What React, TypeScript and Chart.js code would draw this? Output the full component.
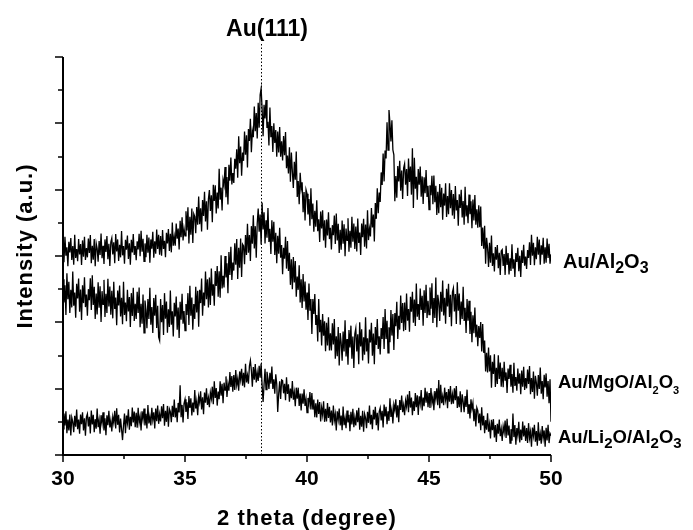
import React, { useEffect, useRef } from "react";
import { Chart, registerables } from "chart.js";

Chart.register(...registerables);

const thetaStart = 30;
const thetaEnd = 50;

const xMajorTicks = [30, 35, 40, 45, 50];
const xMinorTicks = [32.5, 37.5, 42.5, 47.5];
const yTicks = [0, 100, 200, 300, 400, 500, 600, 700, 800, 900, 1000, 1100, 1200];
const peakPosition = 38.1;
const peakLabel = "Au(111)";
const xTitle = "2 theta (degree)";
const yTitle = "Intensity (a.u.)";

// intensities (a.u.), 2-theta from 30 to 50 deg, evenly spaced (0.04 deg)
const auAl2O3 = [
  640, 581, 658, 601, 626, 569, 643, 611, 654, 588, 630, 574, 664, 594, 621, 584, 651, 605, 636, 573, 647, 598, 658, 588, 624,
  596, 653, 609, 663, 578, 631, 589, 651, 569, 638, 622, 583, 645, 603, 668, 593, 631, 576, 650, 612, 660, 590, 637, 570, 642,
  654, 605, 641, 578, 666, 614, 650, 585, 634, 596, 675, 602, 630, 577, 649, 619, 662, 591, 638, 574, 649, 611, 666, 603, 630,
  587, 644, 620, 667, 599, 676, 613, 652, 584, 638, 596, 664, 610, 656, 580, 650, 622, 673, 595, 644, 607, 680, 621, 664, 604,
  660, 601, 678, 621, 646, 596, 670, 638, 681, 615, 667, 611, 701, 631, 658, 631, 698, 652, 683, 620, 706, 657, 717, 647, 683,
  661, 735, 677, 747, 638, 718, 664, 743, 639, 727, 719, 669, 748, 694, 779, 696, 744, 674, 769, 721, 794, 704, 765, 679, 772,
  799, 736, 783, 702, 815, 766, 813, 728, 791, 743, 863, 770, 806, 737, 829, 813, 868, 777, 838, 755, 875, 827, 897, 816, 850,
  820, 893, 863, 922, 836, 961, 880, 930, 842, 912, 887, 975, 905, 964, 867, 983, 947, 1014, 913, 976, 958, 1051, 976, 1031, 954,
  1062, 987, 1086, 1105, 1044, 961, 1056, 1015, 1070, 986, 1005, 933, 1048, 958, 992, 914, 1000, 941, 980, 899, 975, 912, 989, 899, 946,
  888, 962, 904, 974, 865, 903, 849, 928, 824, 912, 855, 805, 884, 830, 915, 778, 826, 756, 851, 803, 822, 732, 793, 707, 800,
  788, 725, 772, 691, 804, 711, 758, 673, 736, 688, 768, 675, 711, 642, 734, 683, 738, 647, 708, 625, 710, 662, 732, 651, 685,
  620, 693, 663, 722, 636, 728, 647, 697, 609, 679, 619, 707, 637, 696, 599, 683, 647, 714, 613, 676, 625, 718, 643, 698, 621,
  689, 614, 713, 639, 671, 603, 698, 657, 712, 628, 695, 623, 738, 648, 682, 659, 745, 686, 725, 644, 760, 712, 804, 729, 791,
  763, 852, 814, 909, 825, 918, 894, 1003, 919, 1040, 1000, 945, 1009, 920, 905, 765, 841, 776, 871, 825, 887, 797, 858, 772, 865,
  878, 815, 862, 781, 894, 823, 870, 785, 925, 745, 896, 803, 839, 770, 862, 815, 870, 779, 840, 757, 837, 789, 859, 778, 812,
  740, 813, 783, 842, 756, 843, 762, 812, 724, 794, 729, 817, 747, 806, 709, 788, 752, 819, 718, 781, 726, 819, 744, 799, 722,
  787, 712, 811, 737, 769, 691, 786, 745, 800, 716, 766, 694, 809, 719, 753, 699, 785, 726, 765, 684, 770, 707, 784, 694, 741,
  685, 753, 687, 749, 630, 686, 622, 691, 577, 655, 625, 567, 640, 580, 662, 570, 608, 553, 627, 589, 633, 563, 610, 543, 615,
  619, 570, 606, 543, 631, 573, 609, 544, 593, 555, 635, 562, 590, 537, 609, 582, 625, 554, 601, 537, 617, 579, 634, 571, 598,
  561, 618, 594, 641, 573, 664, 601, 640, 572, 626, 590, 658, 604, 650, 574, 632, 604, 655, 577, 626, 580, 653, 594, 637, 577,
  605,
];

const auMgOAl2O3 = [
  530, 460, 512, 422, 548, 470, 522, 428, 498, 445, 553, 450, 490, 414, 516, 472, 532, 432, 499, 407, 512, 458, 536, 446, 484,
  420, 500, 467, 533, 437, 542, 452, 507, 410, 487, 424, 521, 444, 509, 401, 494, 454, 528, 416, 486, 428, 531, 448, 508, 423,
  495, 412, 522, 440, 475, 391, 496, 451, 511, 418, 474, 394, 522, 422, 460, 403, 498, 433, 476, 386, 488, 419, 504, 404, 456,
  410, 492, 428, 505, 385, 456, 396, 484, 368, 466, 437, 382, 470, 410, 504, 393, 446, 368, 473, 420, 483, 383, 450, 355, 345,
  470, 400, 452, 362, 488, 411, 463, 369, 439, 386, 496, 393, 433, 357, 459, 418, 478, 378, 445, 353, 462, 408, 486, 396, 434,
  375, 455, 422, 488, 392, 510, 420, 475, 378, 455, 410, 507, 430, 495, 387, 498, 458, 532, 420, 490, 450, 553, 470, 530, 445,
  535, 452, 562, 480, 515, 450, 555, 510, 570, 477, 554, 474, 602, 502, 540, 505, 600, 535, 578, 488, 612, 543, 628, 528, 580,
  556, 638, 574, 651, 531, 625, 565, 653, 537, 635, 630, 575, 663, 603, 697, 610, 663, 585, 690, 637, 723, 623, 690, 595, 698,
  743, 673, 725, 635, 761, 680, 732, 638, 708, 655, 745, 642, 682, 606, 708, 643, 703, 603, 670, 578, 661, 607, 685, 595, 633,
  545, 625, 592, 658, 562, 645, 555, 610, 513, 590, 500, 597, 520, 585, 477, 538, 498, 572, 460, 530, 443, 546, 463, 523, 438,
  490, 407, 517, 435, 470, 365, 470, 425, 485, 392, 422, 342, 470, 370, 408, 330, 425, 360, 403, 313, 399, 330, 415, 315, 367,
  315, 397, 333, 410, 290, 358, 298, 386, 270, 368, 339, 284, 372, 312, 406, 297, 350, 272, 377, 324, 390, 290, 357, 262, 365,
  382, 312, 364, 274, 400, 327, 379, 285, 355, 302, 415, 312, 352, 276, 378, 339, 399, 299, 366, 274, 386, 332, 410, 320, 358,
  303, 383, 350, 416, 320, 440, 350, 405, 308, 385, 340, 437, 360, 425, 317, 428, 388, 462, 350, 420, 378, 481, 398, 458, 373,
  460, 377, 487, 405, 440, 372, 477, 432, 492, 399, 469, 389, 517, 417, 455, 407, 502, 437, 480, 390, 497, 428, 513, 413, 465,
  423, 505, 441, 518, 398, 473, 413, 535, 385, 483, 459, 404, 492, 432, 526, 421, 474, 396, 501, 448, 516, 416, 483, 388, 491,
  503, 433, 485, 395, 521, 435, 487, 393, 463, 410, 507, 404, 444, 368, 470, 405, 465, 365, 432, 340, 421, 367, 445, 355, 393,
  328, 389, 353, 401, 312, 395, 308, 345, 252, 308, 249, 324, 252, 301, 203, 281, 244, 304, 205, 263, 214, 301, 229, 279, 206,
  263, 204, 281, 224, 249, 187, 261, 229, 272, 206, 244, 188, 278, 208, 235, 194, 261, 215, 246, 183, 255, 206, 266, 196, 232,
  201, 258, 214, 268, 183, 232, 190, 252, 170, 239, 218, 179, 241, 199, 264, 185, 223, 168, 242, 204, 246, 176, 223, 156, 228,
  100,
];

const auLi2OAl2O3 = [
  79, 125, 89, 132, 66, 107, 74, 122, 59, 113, 100, 69, 118, 85, 137, 78, 107, 64, 122, 93, 129, 74, 111, 58, 115,
  124, 86, 115, 65, 134, 92, 121, 69, 108, 79, 140, 84, 106, 64, 120, 96, 129, 74, 111, 60, 120, 90, 133, 83, 104,
  71, 115, 97, 133, 80, 141, 91, 121, 68, 110, 78, 45, 89, 125, 66, 119, 97, 138, 76, 115, 87, 143, 98, 131, 84,
  127, 82, 142, 97, 116, 74, 132, 107, 140, 89, 124, 80, 151, 95, 116, 89, 142, 106, 129, 80, 140, 102, 149, 94, 123,
  101, 147, 111, 154, 88, 133, 100, 148, 85, 139, 130, 99, 148, 115, 167, 113, 142, 99, 157, 128, 210, 114, 151, 98, 155,
  168, 130, 159, 109, 178, 142, 171, 119, 158, 129, 196, 140, 162, 120, 176, 159, 192, 137, 174, 123, 188, 158, 201, 151, 172,
  144, 188, 170, 206, 153, 222, 172, 202, 149, 191, 168, 222, 179, 215, 156, 218, 196, 237, 175, 214, 194, 250, 205, 238, 191,
  241, 196, 256, 211, 230, 194, 252, 227, 260, 209, 248, 204, 275, 219, 240, 215, 268, 285, 255, 206, 265, 227, 274, 219, 248,
  223, 269, 233, 276, 210, 160, 212, 260, 197, 251, 230, 199, 248, 215, 267, 199, 228, 185, 243, 214, 130, 185, 222, 169, 226,
  224, 186, 215, 165, 234, 184, 213, 161, 200, 171, 223, 167, 189, 147, 203, 170, 203, 148, 185, 134, 185, 155, 198, 148, 169,
  128, 172, 154, 190, 137, 187, 137, 167, 114, 156, 113, 167, 124, 160, 101, 143, 121, 162, 100, 139, 101, 157, 112, 145, 98,
  134, 89, 149, 104, 123, 74, 132, 107, 140, 89, 119, 75, 146, 90, 111, 81, 134, 98, 121, 72, 130, 92, 139, 84, 113,
  89, 135, 99, 142, 76, 118, 85, 133, 70, 124, 112, 81, 130, 97, 149, 92, 121, 78, 136, 107, 145, 90, 127, 74, 131,
  142, 104, 133, 83, 152, 116, 145, 93, 132, 103, 171, 115, 137, 95, 151, 135, 168, 113, 150, 99, 166, 136, 179, 129, 150,
  120, 164, 146, 182, 129, 193, 143, 173, 120, 162, 133, 187, 144, 180, 121, 177, 155, 196, 134, 173, 147, 203, 158, 191, 144,
  187, 142, 202, 157, 176, 135, 193, 168, 201, 150, 226, 141, 212, 156, 177, 150, 203, 167, 190, 141, 199, 161, 208, 153, 182,
  155, 201, 165, 208, 142, 177, 144, 192, 129, 183, 160, 129, 178, 145, 197, 124, 153, 110, 168, 139, 157, 102, 139, 86, 143,
  134, 96, 125, 75, 144, 89, 118, 66, 105, 76, 126, 70, 92, 50, 106, 75, 108, 53, 90, 39, 94, 64, 107, 57, 78,
  42, 86, 68, 104, 51, 109, 59, 89, 36, 78, 43, 125, 54, 90, 31, 81, 59, 100, 38, 77, 45, 101, 56, 89, 42,
  81, 36, 96, 51, 70, 25, 83, 58, 91, 40, 72, 28, 99, 43, 64, 34, 87, 51, 74, 25, 82, 44, 91, 36, 65,
  58,
];

type Run = [string, number, number];

const labelTop: Run[] = [["Au/Al", 20, 0], ["2", 16, 5], ["O", 20, 0], ["3", 16, 5]];
const labelMid: Run[] = [["Au/MgO/Al", 18.5, 0], ["2", 11, 6], ["O", 18.5, 0], ["3", 11, 6]];
const labelBot: Run[] = [["Au/Li", 18.5, 0], ["2", 15, 5], ["O/Al", 18.5, 0], ["2", 15, 5], ["O", 18.5, 0], ["3", 15, 5]];

const FONT = '"Liberation Sans", Arial, Helvetica, sans-serif';

function toPoints(values: number[]) {
  const step = (thetaEnd - thetaStart) / (values.length - 1);
  return values.map((v, i) => ({ x: thetaStart + i * step, y: v }));
}

function drawRuns(ctx: CanvasRenderingContext2D, x: number, y: number, runs: Run[]) {
  let cx = x;
  for (const [t, size, dy] of runs) {
    ctx.font = `bold ${size}px ${FONT}`;
    ctx.fillText(t, cx, y + dy);
    cx += ctx.measureText(t).width;
  }
}

const decorPlugin = {
  id: "decor",
  afterDraw(chart: any) {
    const { ctx, chartArea, scales } = chart;
    const xs = scales.x;
    const ys = scales.y;
    const { left, right, top, bottom } = chartArea;
    ctx.save();
    ctx.strokeStyle = "#000";
    ctx.fillStyle = "#000";
    ctx.lineCap = "butt";

    const px = xs.getPixelForValue(peakPosition);
    ctx.lineWidth = 1;
    ctx.setLineDash([1.5, 2]);
    ctx.beginPath();
    ctx.moveTo(Math.round(px) + 0.5, 44);
    ctx.lineTo(Math.round(px) + 0.5, bottom);
    ctx.stroke();
    ctx.setLineDash([]);

    ctx.lineWidth = 2;
    ctx.beginPath();
    ctx.moveTo(left, top);
    ctx.lineTo(left, bottom + 1);
    ctx.moveTo(left - 1, bottom);
    ctx.lineTo(right, bottom);
    ctx.stroke();

    ctx.lineWidth = 1.5;
    for (const v of yTicks) {
      const py = Math.round(ys.getPixelForValue(v));
      const len = v % 200 === 0 ? 8 : 5;
      ctx.beginPath();
      ctx.moveTo(left, py);
      ctx.lineTo(left - len, py);
      ctx.stroke();
    }
    for (const v of xMajorTicks) {
      const p = Math.round(xs.getPixelForValue(v));
      ctx.beginPath();
      ctx.moveTo(p, bottom);
      ctx.lineTo(p, bottom + 7);
      ctx.stroke();
    }
    for (const v of xMinorTicks) {
      const p = Math.round(xs.getPixelForValue(v));
      ctx.beginPath();
      ctx.moveTo(p, bottom);
      ctx.lineTo(p, bottom + 4);
      ctx.stroke();
    }

    ctx.font = `bold 21px ${FONT}`;
    ctx.textAlign = "center";
    ctx.textBaseline = "alphabetic";
    for (const v of xMajorTicks) {
      ctx.fillText(String(v), xs.getPixelForValue(v), 485);
    }

    ctx.font = `bold 22px ${FONT}`;
    (ctx as any).letterSpacing = "1px";
    ctx.fillText(xTitle, (left + right) / 2, 525);
    ctx.save();
    ctx.translate(32, 246);
    ctx.rotate(-Math.PI / 2);
    ctx.fillText(yTitle, 0, 0);
    ctx.restore();
    (ctx as any).letterSpacing = "0px";

    ctx.font = `bold 23px ${FONT}`;
    ctx.fillText(peakLabel, 267, 36);

    ctx.textAlign = "left";
    drawRuns(ctx, 563, 268, labelTop);
    drawRuns(ctx, 558, 388, labelMid);
    drawRuns(ctx, 558, 443, labelBot);

    ctx.restore();
  },
};

export default function App() {
  const ref = useRef<HTMLCanvasElement | null>(null);
  useEffect(() => {
    if (!ref.current) return;
    const mk = (label: string, values: number[]) => ({
      label,
      data: toPoints(values),
      borderColor: "#000",
      backgroundColor: "#000",
      borderWidth: 1.3,
      pointRadius: 0,
      tension: 0,
      fill: false,
    });
    const chart = new Chart(ref.current, {
      type: "line",
      data: {
        datasets: [
          mk("Au/Al2O3", auAl2O3),
          mk("Au/MgO/Al2O3", auMgOAl2O3),
          mk("Au/Li2O/Al2O3", auLi2OAl2O3),
        ],
      },
      options: {
        animation: false,
        responsive: false,
        devicePixelRatio: 1,
        events: [],
        layout: { padding: { left: 63, right: 142, top: 57, bottom: 75 } },
        plugins: { legend: { display: false }, tooltip: { enabled: false } },
        scales: {
          x: { type: "linear", min: 30, max: 50, display: false },
          y: { type: "linear", min: 0, max: 1200, display: false },
        },
      },
      plugins: [decorPlugin],
    });
    return () => chart.destroy();
  }, []);
  return (
    <div style={{ position: "fixed", left: 0, top: 0, width: 693, height: 530, background: "#fff" }}>
      <canvas ref={ref} width={693} height={530} />
    </div>
  );
}
